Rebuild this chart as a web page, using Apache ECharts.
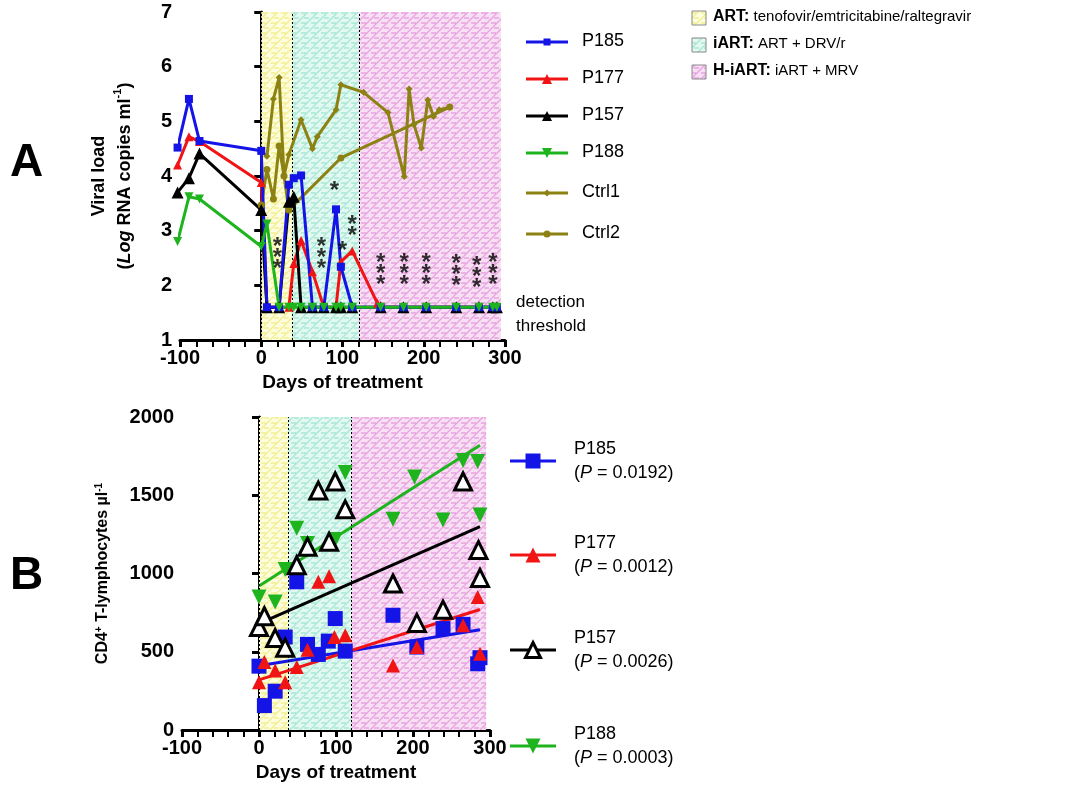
<!DOCTYPE html>
<html><head><meta charset="utf-8">
<script src="https://cdn.jsdelivr.net/npm/echarts@6/dist/echarts.min.js"></script>
<style>body{margin:0;background:#fff}#c{width:1090px;height:800px}</style>
</head><body><div id="c"></div>
<script>
// panel A: viral load (day, log copies)
var p185A = [[-103,4.52],[-89,5.41],[-76,4.64],[0,4.46],[7,1.6],[22,1.6],[34,3.84],[40,3.96],[49,4.01],[63,1.6],[77,1.6],[92,3.39],[98,2.34],[112,1.6],[147,1.6],[175,1.6],[203,1.6],[240,1.6],[268,1.6],[285,1.6],[290,1.6]];
var p177A = [[-103,4.2],[-89,4.72],[-76,4.63],[0,3.88],[7,1.6],[22,1.6],[34,1.6],[40,2.4],[49,2.82],[63,2.25],[77,1.6],[92,1.6],[98,2.43],[112,2.63],[143,1.67],[147,1.6],[175,1.6],[203,1.6],[240,1.6],[268,1.6],[285,1.6],[290,1.6]];
var p157A = [[-103,3.7],[-89,3.96],[-76,4.41],[0,3.38],[7,1.6],[22,1.6],[34,3.53],[40,3.62],[49,1.6],[63,1.6],[77,1.6],[92,1.6],[98,1.6],[112,1.6],[147,1.6],[175,1.6],[203,1.6],[240,1.6],[268,1.6],[285,1.6],[290,1.6]];
var p188A = [[-103,2.8],[-89,3.62],[-76,3.58],[0,2.71],[7,3.12],[22,1.6],[34,1.6],[40,1.6],[49,1.6],[63,1.6],[77,1.6],[92,1.6],[98,1.6],[112,1.6],[147,1.6],[175,1.6],[203,1.6],[240,1.6],[268,1.6],[285,1.6],[290,1.6]];
var ctrl1 = [[0,4.45],[7,4.36],[15,5.41],[22,5.8],[28,4.0],[34,4.39],[49,5.03],[63,4.5],[69,4.72],[92,5.21],[98,5.67],[126,5.53],[156,5.16],[176,3.99],[182,5.59],[188,4.94],[197,4.51],[205,5.39],[212,5.09],[219,5.21],[232,5.26]];
var ctrl2 = [[0,3.47],[7,4.12],[15,3.58],[22,4.55],[28,4.0],[34,3.38],[98,4.33],[232,5.26]];
var stars = [[20,2.5,'*\n*\n*'],[74,2.5,'*\n*\n*'],[90,3.72,'*'],[100,2.62,'*'],[112,3.0,'*\n*'],[147,2.2,'*\n*\n*'],[176,2.2,'*\n*\n*'],[203,2.2,'*\n*\n*'],[240,2.18,'*\n*\n*'],[265,2.15,'*\n*\n*'],[285,2.2,'*\n*\n*']];
// panel B: CD4 counts
var p185B = [[0,408],[7,156],[21,248],[34,594],[49,947],[63,547],[77,483],[90,568],[99,712],[112,504],[174,733],[205,530],[239,648],[265,675],[284,423],[287,462]];
var p177B = [[0,305],[7,434],[21,380],[34,305],[49,402],[63,513],[77,947],[91,983],[98,594],[112,605],[174,412],[205,530],[265,669],[284,850],[287,487]];
var p157B = [[0,658],[7,727],[21,588],[34,526],[49,1053],[63,1171],[77,1530],[91,1203],[99,1588],[112,1410],[174,936],[205,684],[239,769],[265,1588],[285,1150],[287,972]];
var p188B = [[0,850],[21,818],[34,1026],[49,1289],[63,1192],[99,1218],[112,1645],[174,1346],[202,1616],[239,1342],[265,1722],[284,1716],[287,1374]];
var fit185 = [[0,410],[287,640]];
var fit177 = [[0,320],[287,770]];
var fit157 = [[0,680],[287,1300]];
var fit188 = [[0,920],[287,1820]];
var pvals = ['0.0192','0.0012','0.0026','0.0003'];
var phases = [[0,38],[38,120],[120,295]];

var downTri = 'path://M0,0 L10,0 L5,10 Z';
var cBlue = '#1414e6', cRed = '#f01414', cBlack = '#000', cGreen = '#1eb41e', cOlive = '#8c8214';

function hatch(bg, line) {
  var cv = document.createElement('canvas');
  cv.width = 10; cv.height = 10;
  var g = cv.getContext('2d');
  g.fillStyle = bg; g.fillRect(0, 0, 10, 10);
  g.strokeStyle = line; g.lineWidth = 1.3;
  g.beginPath();
  g.moveTo(0, 10); g.lineTo(10, 0);
  g.moveTo(-5, 5); g.lineTo(5, -5);
  g.moveTo(5, 15); g.lineTo(15, 5);
  g.moveTo(1, 3); g.lineTo(6, 3);
  g.moveTo(4, 8); g.lineTo(9, 8);
  g.stroke();
  return { image: cv, repeat: 'repeat' };
}
var fills = [hatch('#fdfde0', '#f2ee90'), hatch('#e4f8f2', '#a6e8d4'), hatch('#f8e0f4', '#e8a2e0')];

function bands(xi, yi) {
  return {
    type: 'line', xAxisIndex: xi, yAxisIndex: yi, data: [], silent: true,
    markArea: { silent: true, data: phases.map(function (p, i) {
      return [{ xAxis: p[0], itemStyle: { color: fills[i] } }, { xAxis: p[1] }];
    }) },
    markLine: { silent: true, symbol: 'none', label: { show: false },
      lineStyle: { color: '#000', type: [2, 2], width: 1 },
      data: [{ xAxis: 0 }, { xAxis: 38 }, { xAxis: 120 }] }
  };
}
function lineA(d, c, sym, size) {
  return { type: 'line', xAxisIndex: 0, yAxisIndex: 0, data: d, symbol: sym, symbolSize: size, clip: false,
    lineStyle: { color: c, width: 3 }, itemStyle: { color: c }, z: 5 };
}
function dots(d, c, sym, size, hollow) {
  return { type: 'scatter', xAxisIndex: 1, yAxisIndex: 1, data: d, symbol: sym, symbolSize: size,
    itemStyle: hollow ? { color: '#fff', borderColor: c, borderWidth: 3, opacity: 1 } : { color: c, opacity: 1 }, z: 5 };
}
function fit(d, c) {
  return { type: 'line', xAxisIndex: 1, yAxisIndex: 1, data: d, symbol: 'none',
    lineStyle: { color: c, width: 3 }, z: 4 };
}

var axisCommon = {
  axisLine: { show: true, lineStyle: { color: '#000', width: 3 } },
  axisTick: { show: true, length: 7, lineStyle: { color: '#000', width: 3 } },
  axisLabel: { color: '#000', fontSize: 20, fontWeight: 'bold', fontFamily: 'Liberation Sans', formatter: function (v) { return String(v); } },
  splitLine: { show: false }
};
function ax(o) { var a = Object.assign({}, axisCommon); return Object.assign(a, o); }

var graphics = [
  { type: 'text', left: 10, top: 140, style: { text: 'A', font: 'bold 46px Liberation Sans', fill: '#000' } },
  { type: 'text', left: 10, top: 553, style: { text: 'B', font: 'bold 46px Liberation Sans', fill: '#000' } },
  { type: 'text', left: 516, top: 290, style: { text: 'detection\nthreshold', font: '17px Liberation Sans', fill: '#000', lineHeight: 24 } }
];
// legend A
var legA = [['P185', cBlue, 'rect'], ['P177', cRed, 'tri'], ['P157', cBlack, 'tri'], ['P188', cGreen, 'down'], ['Ctrl1', cOlive, 'dia'], ['Ctrl2', cOlive, 'dot']];
var legAy = [42, 79, 116, 153, 193, 234];
function marker(kind, cx, cy, s, c, hollow) {
  var st = hollow ? { fill: '#fff', stroke: c, lineWidth: 3 } : { fill: c };
  if (kind === 'rect') return { type: 'rect', shape: { x: cx - s / 2, y: cy - s / 2, width: s, height: s }, style: st };
  if (kind === 'tri') return { type: 'polygon', shape: { points: [[cx, cy - s / 2], [cx + s / 2, cy + s / 2], [cx - s / 2, cy + s / 2]] }, style: st };
  if (kind === 'down') return { type: 'polygon', shape: { points: [[cx - s / 2, cy - s / 2], [cx + s / 2, cy - s / 2], [cx, cy + s / 2]] }, style: st };
  if (kind === 'dia') return { type: 'polygon', shape: { points: [[cx, cy - s / 2], [cx + s / 2, cy], [cx, cy + s / 2], [cx - s / 2, cy]] }, style: st };
  return { type: 'circle', shape: { cx: cx, cy: cy, r: s / 2 }, style: st };
}
legA.forEach(function (l, i) {
  var y = legAy[i];
  graphics.push({ type: 'line', shape: { x1: 526, y1: y, x2: 568, y2: y }, style: { stroke: l[1], lineWidth: 3 } });
  graphics.push(marker(l[2], 547, y, l[2] === 'tri' || l[2] === 'down' ? 10 : 7, l[1]));
  graphics.push({ type: 'text', left: 582, top: y - 10, style: { text: l[0], font: '18px Liberation Sans', fill: '#000' } });
});
// legend B
var legB = [['P185', cBlue, 'rect', false], ['P177', cRed, 'tri', false], ['P157', cBlack, 'tri', true], ['P188', cGreen, 'down', false]];
var legBy = [461, 555, 650, 746];
legB.forEach(function (l, i) {
  var y = legBy[i];
  graphics.push({ type: 'line', shape: { x1: 510, y1: y, x2: 556, y2: y }, style: { stroke: l[1], lineWidth: 3 } });
  graphics.push(marker(l[2], 533, y, 15, l[1], l[3]));
  graphics.push({ type: 'text', left: 574, top: y - 24, style: {
    text: l[0] + '\n({i|P} = ' + pvals[i] + ')', font: '18px Liberation Sans', fill: '#000', lineHeight: 24,
    rich: { i: { fontStyle: 'italic', fontSize: 18, fontFamily: 'Liberation Sans' } } } });
});
// phase legend
var legP = [['ART:', ' tenofovir/emtricitabine/raltegravir'], ['iART:', ' ART + DRV/r'], ['H-iART:', ' iART + MRV']];
legP.forEach(function (l, i) {
  var y = 18 + i * 27;
  graphics.push({ type: 'rect', shape: { x: 692, y: y - 7, width: 14, height: 14 }, style: { fill: fills[i], stroke: '#888', lineWidth: 1 } });
  graphics.push({ type: 'text', left: 713, top: y - 9, style: {
    text: '{b|' + l[0] + '}' + l[1], font: '15px Liberation Sans', fill: '#000',
    rich: { b: { fontWeight: 'bold', fontSize: 16, fontFamily: 'Liberation Sans' } } } });
});

var minor = { show: true, splitNumber: 5, length: 7, lineStyle: { color: '#000', width: 2 } };
var xName = { color: '#000', fontSize: 19, fontWeight: 'bold' };

var option = {
  animation: false,
  textStyle: { fontFamily: 'Liberation Sans' },
  grid: [
    { left: 180, top: 12, width: 325, height: 328 },
    { left: 182, top: 417, width: 308, height: 313 }
  ],
  xAxis: [
    ax({ gridIndex: 0, type: 'value', min: -100, max: 300, interval: 100, minorTick: minor,
      name: 'Days of treatment', nameLocation: 'middle', nameGap: 33, nameTextStyle: xName }),
    ax({ gridIndex: 1, type: 'value', min: -100, max: 300, interval: 100, minorTick: minor,
      name: 'Days of treatment', nameLocation: 'middle', nameGap: 33, nameTextStyle: xName })
  ],
  yAxis: [
    ax({ gridIndex: 0, type: 'value', min: 1, max: 7, interval: 1,
      name: '{b|Viral load}\n{b|(}{bi|Log}{b| RNA copies ml}{s|-1}{b|)}', nameLocation: 'middle', nameGap: 42,
      nameTextStyle: { lineHeight: 26, rich: {
        b: { fontSize: 18, fontWeight: 'bold', color: '#000' },
        bi: { fontSize: 18, fontWeight: 'bold', fontStyle: 'italic', color: '#000' },
        s: { fontSize: 11, fontWeight: 'bold', color: '#000', verticalAlign: 'top', padding: [0, 0, 10, 0] } } } }),
    ax({ gridIndex: 1, type: 'value', min: 0, max: 2000, interval: 500,
      name: '{b|CD4}{s|+}{b| T-lymphocytes µl}{s|-1}', nameLocation: 'middle', nameGap: 70,
      nameTextStyle: { rich: {
        b: { fontSize: 16, fontWeight: 'bold', color: '#000' },
        s: { fontSize: 10, fontWeight: 'bold', color: '#000', verticalAlign: 'top', padding: [0, 0, 8, 0] } } } })
  ],
  graphic: graphics,
  series: [
    bands(0, 0),
    bands(1, 1),
    lineA(ctrl2, cOlive, 'circle', 7),
    lineA(ctrl1, cOlive, 'diamond', 7),
    lineA(p177A, cRed, 'triangle', 9),
    lineA(p157A, cBlack, 'triangle', 12),
    lineA(p185A, cBlue, 'rect', 8),
    lineA(p188A, cGreen, downTri, 9),
    { type: 'scatter', xAxisIndex: 0, yAxisIndex: 0, symbolSize: 0, z: 6,
      data: stars.map(function (s) { return { value: [s[0], s[1]], name: s[2] }; }),
      label: { show: true, position: 'inside', formatter: '{b}', fontSize: 24, fontWeight: 'bold', color: '#000', lineHeight: 11 } },
    fit(fit185, cBlue), fit(fit177, cRed), fit(fit157, cBlack), fit(fit188, cGreen),
    dots(p185B, cBlue, 'rect', 15),
    dots(p177B, cRed, 'triangle', 14),
    dots(p188B, cGreen, downTri, 15),
    dots(p157B, cBlack, 'triangle', 17, true)
  ]
};
echarts.init(document.getElementById('c')).setOption(option);
</script></body></html>
